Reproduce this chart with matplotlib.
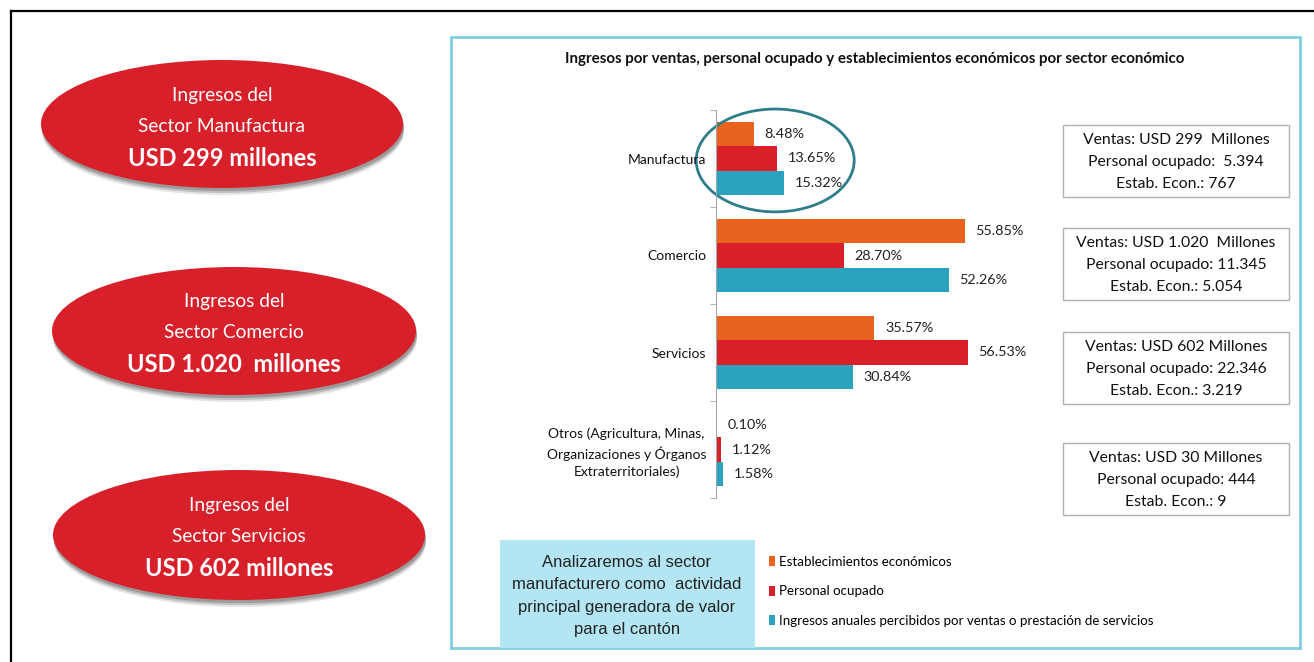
import matplotlib
matplotlib.use("Agg")
import matplotlib.pyplot as plt
from matplotlib.patches import Ellipse, Rectangle

plt.rcParams['font.family'] = ['Lato', 'DejaVu Sans']

# data
categories = ['Manufactura', 'Comercio', 'Servicios',
              'Otros (Agricultura, Minas,\nOrganizaciones y Órganos\nExtraterritoriales)']
estab = [8.48, 55.85, 35.57, 0.10]
personal = [13.65, 28.70, 56.53, 1.12]
ingresos = [15.32, 52.26, 30.84, 1.58]
series_names = ['Establecimientos económicos', 'Personal ocupado',
                'Ingresos anuales percibidos por ventas o prestación de servicios']
series_colors = ['#e8641e', '#d91f2a', '#2ba3bf']

ventas = ['USD 299  Millones', 'USD 1.020  Millones', 'USD 602 Millones', 'USD 30 Millones']
personal_ocup = [' 5.394', '11.345', '22.346', '444']
estab_econ = ['767', '5.054', '3.219', '9']

sectores = ['Manufactura', 'Comercio', 'Servicios']
montos = ['USD 299 millones', 'USD 1.020  millones', 'USD 602 millones']

W, H = 1314, 662
fig = plt.figure(figsize=(W / 100, H / 100), dpi=100)

# background layer in pixel coordinates
bg = fig.add_axes([0, 0, 1, 1])
bg.set_xlim(0, W)
bg.set_ylim(H, 0)
bg.axis('off')

# outer frame
bg.plot([11, W], [11, 11], color='black', lw=1.6)
bg.plot([11, 11], [11, H], color='black', lw=1.6)

# teal box holding the chart
bg.add_patch(Rectangle((451, 37), 849, 611, fill=False, ec='#7fcfe0', lw=2))

# red ellipses on the left
ell_pos = [(222, 124, 362, 128), (234, 331, 364, 128), (239, 535, 372, 130)]
for (cx, cy, ew, eh), sec, monto in zip(ell_pos, sectores, montos):
    for k, a in [(7, 0.15), (5, 0.25), (3, 0.35)]:
        bg.add_patch(Ellipse((cx + 1, cy + k), ew, eh, color='#555555', alpha=a, lw=0))
    bg.add_patch(Ellipse((cx, cy), ew, eh, color='#d7202a', lw=0))
    bg.text(cx, cy - 29, 'Ingresos del', color='white', fontsize=13.8, ha='center', va='center')
    bg.text(cx, cy + 2, 'Sector ' + sec, color='white', fontsize=13.8, ha='center', va='center')
    bg.text(cx, cy + 34, monto, color='white', fontsize=17, fontweight='bold',
            ha='center', va='center')

# title
bg.text(875, 59, 'Ingresos por ventas, personal ocupado y establecimientos económicos por sector económico',
        fontsize=10.9, fontweight='bold', ha='center', va='center', color='#111111')

# summary boxes
box_tops = [125, 228, 332, 443]
for top, v, p, e in zip(box_tops, ventas, personal_ocup, estab_econ):
    bg.add_patch(Rectangle((1063, top), 226, 72, fill=False, ec='#b0b0b0', lw=1))
    bg.text(1176, top + 15, 'Ventas: ' + v, fontsize=11.3, ha='center', va='center', color='#111111')
    bg.text(1176, top + 37, 'Personal ocupado: ' + p, fontsize=11.3, ha='center', va='center', color='#111111')
    bg.text(1176, top + 59, 'Estab. Econ.: ' + e, fontsize=11.3, ha='center', va='center', color='#111111')

# note box
bg.add_patch(Rectangle((500, 540), 255, 108, color='#b3e6f2', lw=0))
bg.text(627, 596, 'Analizaremos al sector\nmanufacturero como  actividad\nprincipal generadora de valor\npara el cantón',
        family=['Liberation Sans Narrow', 'Liberation Sans'], fontsize=12,
        ha='center', va='center', linespacing=1.6, color='#222222')

# bar chart
ax = fig.add_axes([716 / W, 1 - 498 / H, 311.5 / W, 388 / H])
ax.patch.set_alpha(0)
ypos = list(range(len(categories)))
bh = 0.25
handles = []
for off, vals, col, name in zip([-bh, 0, bh], [estab, personal, ingresos], series_colors, series_names):
    b = ax.barh([y + off for y in ypos], vals, height=bh, color=col, label=name)
    handles.append(b)
    for y, v in zip(ypos, vals):
        ax.text(v + 2.4, y + off, f'{v:.2f}%', va='center', ha='left', fontsize=10.4, color='#222222')

ax.set_xlim(0, 70)
ax.set_ylim(3.5, -0.5)
ax.set_xticks([])
ax.set_yticks(ypos)
ax.set_yticklabels(categories, fontsize=10, color='#111111')
for lab in ax.get_yticklabels():
    lab.set_multialignment('center')
    lab.set_linespacing(1.45)
ax.set_yticks([-0.5, 0.5, 1.5, 2.5, 3.5], minor=True)
ax.tick_params(axis='y', which='major', length=0, pad=7)
ax.tick_params(axis='y', which='minor', length=4, color='#a6a6a6', direction='out')
for s in ['top', 'right', 'bottom']:
    ax.spines[s].set_visible(False)
ax.spines['left'].set_color('#a6a6a6')

# highlight around manufactura
ax.add_patch(Ellipse((13.3, 0.02), 35.5, 1.06, fill=False, ec='#2e7d8a', lw=2, clip_on=False))

ax.legend(handles=handles, loc='upper left', bbox_to_anchor=(769 / W, 1 - 556 / H),
          bbox_transform=fig.transFigure, frameon=False, fontsize=9.6,
          handlelength=0.45, handleheight=0.8, handletextpad=0.3, labelspacing=1.3,
          borderaxespad=0, borderpad=0)

fig.savefig('out.png', dpi=100)
